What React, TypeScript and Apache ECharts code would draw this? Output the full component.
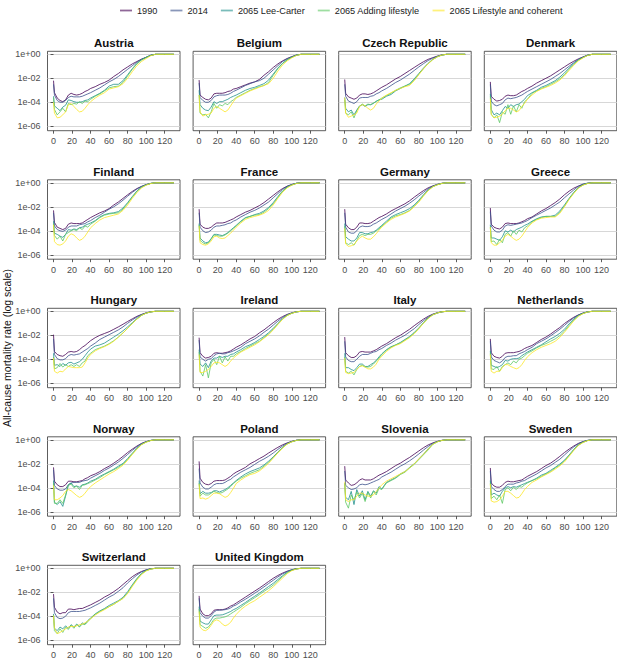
import React, { useEffect, useRef } from 'react';
import * as echarts from 'echarts';

// Ages (years) at which each curve is sampled
const AGES = [0, 1, 4, 7, 10, 13, 16, 19, 22, 25, 28, 31, 34, 37, 40, 45, 50, 55, 60, 65, 70, 75, 80, 85, 90, 95, 100, 105, 110, 120, 130];
// log10 mortality at ages 110, 120, 130 (all curves reach 1)
const TAIL = [0, 0, 0];

const SERIES_NAMES = ['1990', '2014', '2065 Lee-Carter', '2065 Adding lifestyle', '2065 Lifestyle and coherent'];
const COLORS = ['#440154', '#3B528B', '#21908C', '#5DC863', '#FDE725'];
const COUNTRIES = ['Austria', 'Belgium', 'Czech Republic', 'Denmark', 'Finland', 'France', 'Germany', 'Greece', 'Hungary', 'Ireland', 'Italy', 'Netherlands', 'Norway', 'Poland', 'Slovenia', 'Sweden', 'Switzerland', 'United Kingdom'];
const Y_TICKS = [1e-6, 1e-4, 1e-2, 1];
const X_TICKS = [0, 20, 40, 60, 80, 100, 120];

// log10 mortality rates, ages 0..105
const AT_1990 = [-2.2,-3.2,-3.65,-3.85,-3.95,-3.8,-3.4,-3.25,-3.35,-3.4,-3.35,-3.25,-3.1,-3.0,-2.85,-2.7,-2.5,-2.35,-2.15,-1.85,-1.6,-1.3,-1.05,-0.8,-0.6,-0.4,-0.25,-0.08];
const AT_2014 = [-2.5,-3.4,-3.85,-4.0,-4.0,-3.85,-3.6,-3.5,-3.55,-3.55,-3.55,-3.5,-3.4,-3.3,-3.2,-3.0,-2.8,-2.55,-2.3,-2.1,-1.85,-1.55,-1.25,-0.95,-0.65,-0.42,-0.25,-0.08];
const AT_LC = [-3.5,-4.3,-4.5,-4.7,-4.4,-4.25,-3.8,-3.85,-3.95,-4.0,-4.0,-3.95,-3.85,-3.8,-3.65,-3.45,-3.25,-3.0,-2.65,-2.5,-2.5,-2.2,-1.7,-1.2,-0.75,-0.45,-0.25,-0.08];
const AT_AL = [-3.6,-4.6,-5.05,-4.8,-4.5,-4.8,-4.1,-4.2,-4.1,-4.15,-3.95,-4.1,-3.9,-3.95,-3.75,-3.5,-3.3,-3.05,-2.8,-2.7,-2.65,-2.35,-1.8,-1.25,-0.8,-0.48,-0.27,-0.09];
const AT_CO = [-4.0,-4.9,-5.3,-5.25,-5.05,-4.8,-4.2,-4.1,-4.35,-4.6,-4.8,-4.75,-4.5,-4.2,-3.95,-3.65,-3.4,-3.2,-2.9,-2.8,-2.7,-2.45,-2.0,-1.45,-0.95,-0.6,-0.35,-0.12];

const BE_1990 = [-2.15,-3.4,-3.6,-3.75,-3.8,-3.65,-3.3,-3.25,-3.25,-3.25,-3.2,-3.1,-3.05,-2.9,-2.85,-2.7,-2.55,-2.4,-2.3,-2.1,-1.75,-1.45,-1.1,-0.8,-0.55,-0.35,-0.2,-0.06];
const BE_2014 = [-2.4,-3.6,-3.85,-4.0,-4.0,-3.85,-3.55,-3.45,-3.4,-3.4,-3.4,-3.35,-3.25,-3.1,-3.0,-2.8,-2.6,-2.45,-2.3,-2.2,-2.0,-1.65,-1.3,-0.95,-0.6,-0.38,-0.2,-0.06];
const BE_LC = [-3.0,-4.2,-4.5,-4.65,-4.7,-4.4,-3.95,-4.1,-3.95,-3.95,-3.85,-3.75,-3.6,-3.5,-3.4,-3.2,-3.0,-2.85,-2.75,-2.6,-2.45,-2.15,-1.65,-1.15,-0.75,-0.45,-0.25,-0.08];
const BE_AL = [-3.4,-4.9,-5.05,-5.0,-5.3,-4.8,-4.1,-4.5,-4.2,-4.3,-4.1,-4.2,-3.95,-3.8,-3.6,-3.4,-3.2,-3.0,-2.85,-2.7,-2.6,-2.35,-1.75,-1.2,-0.78,-0.47,-0.26,-0.08];
const BE_CO = [-3.4,-4.8,-5.15,-5.05,-5.0,-4.9,-4.5,-4.35,-4.5,-4.65,-4.8,-4.65,-4.3,-3.95,-3.65,-3.45,-3.25,-3.05,-2.9,-2.75,-2.6,-2.45,-2.0,-1.4,-0.9,-0.55,-0.3,-0.1];

const CZ_1990 = [-2.1,-3.25,-3.55,-3.65,-3.75,-3.65,-3.4,-3.3,-3.3,-3.35,-3.3,-3.2,-3.05,-2.9,-2.75,-2.55,-2.3,-2.05,-1.85,-1.6,-1.35,-1.1,-0.85,-0.62,-0.42,-0.28,-0.15,-0.05];
const CZ_2014 = [-2.5,-3.5,-3.9,-4.0,-4.1,-3.95,-3.65,-3.6,-3.6,-3.6,-3.5,-3.45,-3.3,-3.2,-3.05,-2.85,-2.6,-2.35,-2.15,-1.9,-1.65,-1.35,-1.05,-0.78,-0.52,-0.32,-0.17,-0.05];
const CZ_LC = [-3.6,-4.5,-4.8,-4.65,-5.05,-4.65,-4.3,-4.2,-4.35,-4.2,-4.2,-4.1,-3.9,-3.8,-3.75,-3.5,-3.35,-3.05,-2.85,-2.65,-2.45,-2.05,-1.6,-1.15,-0.75,-0.42,-0.2,-0.06];
const CZ_AL = [-3.8,-4.9,-5.05,-4.8,-5.3,-4.7,-4.35,-4.15,-4.3,-4.15,-4.2,-4.05,-3.95,-3.8,-3.65,-3.45,-3.25,-3.0,-2.8,-2.65,-2.5,-2.15,-1.65,-1.2,-0.78,-0.44,-0.2,-0.06];
const CZ_CO = [-3.6,-4.9,-5.25,-5.15,-5.05,-4.9,-4.35,-4.2,-4.3,-4.5,-4.65,-4.5,-4.15,-3.9,-3.65,-3.4,-3.2,-3.0,-2.85,-2.7,-2.6,-2.2,-1.7,-1.2,-0.8,-0.45,-0.21,-0.06];

const DK_1990 = [-2.3,-3.5,-3.75,-3.9,-3.85,-3.75,-3.5,-3.4,-3.45,-3.45,-3.4,-3.25,-3.1,-3.0,-2.85,-2.65,-2.4,-2.2,-2.0,-1.8,-1.55,-1.3,-1.05,-0.8,-0.58,-0.38,-0.22,-0.07];
const DK_2014 = [-2.5,-3.9,-4.2,-4.3,-4.2,-4.1,-3.8,-3.65,-3.7,-3.65,-3.6,-3.5,-3.4,-3.25,-3.1,-2.9,-2.7,-2.5,-2.3,-2.1,-1.85,-1.6,-1.3,-1.0,-0.7,-0.43,-0.24,-0.08];
const DK_LC = [-3.3,-4.6,-5.05,-4.9,-5.05,-4.7,-4.35,-4.5,-4.2,-4.35,-4.2,-4.15,-3.95,-3.75,-3.45,-3.2,-3.0,-2.75,-2.6,-2.4,-2.2,-1.9,-1.55,-1.15,-0.78,-0.47,-0.26,-0.08];
const DK_AL = [-3.5,-5.0,-5.3,-5.05,-5.7,-4.8,-5.0,-4.2,-5.0,-4.3,-4.8,-4.2,-4.5,-3.95,-3.75,-3.25,-3.05,-2.85,-2.7,-2.5,-2.3,-2.05,-1.7,-1.25,-0.85,-0.5,-0.28,-0.09];
const DK_CO = [-3.7,-5.0,-5.3,-5.25,-5.15,-5.0,-4.7,-4.5,-4.5,-4.65,-4.8,-4.7,-4.35,-4.1,-3.75,-3.4,-3.1,-2.9,-2.75,-2.6,-2.4,-2.15,-1.8,-1.35,-0.92,-0.55,-0.3,-0.1];

const FI_1990 = [-2.3,-3.3,-3.7,-3.8,-3.9,-3.8,-3.45,-3.35,-3.4,-3.4,-3.4,-3.35,-3.2,-3.05,-2.9,-2.7,-2.5,-2.35,-2.15,-1.85,-1.6,-1.3,-1.0,-0.72,-0.48,-0.3,-0.15,-0.05];
const FI_2014 = [-2.5,-3.6,-3.9,-4.0,-4.05,-3.95,-3.7,-3.6,-3.6,-3.6,-3.5,-3.45,-3.4,-3.25,-3.15,-2.9,-2.7,-2.45,-2.2,-2.0,-1.75,-1.45,-1.12,-0.8,-0.52,-0.3,-0.15,-0.05];
const FI_LC = [-3.2,-4.2,-4.3,-4.45,-4.55,-4.3,-3.9,-3.95,-3.85,-3.9,-3.75,-3.7,-3.55,-3.45,-3.35,-3.15,-2.85,-2.65,-2.55,-2.5,-2.4,-2.1,-1.65,-1.15,-0.68,-0.35,-0.17,-0.05];
const FI_AL = [-3.4,-4.4,-4.7,-4.45,-4.85,-4.3,-4.15,-4.0,-3.9,-4.0,-3.75,-3.9,-3.6,-3.7,-3.45,-3.2,-2.9,-2.7,-2.6,-2.55,-2.5,-2.2,-1.72,-1.2,-0.72,-0.38,-0.18,-0.05];
const FI_CO = [-3.5,-4.9,-5.15,-5.2,-5.1,-4.85,-4.45,-4.25,-4.35,-4.6,-4.8,-4.7,-4.45,-4.1,-3.75,-3.4,-3.1,-2.9,-2.8,-2.7,-2.6,-2.3,-1.85,-1.3,-0.82,-0.42,-0.2,-0.06];

const FR_1990 = [-2.2,-3.45,-3.7,-3.8,-3.8,-3.7,-3.5,-3.35,-3.35,-3.35,-3.3,-3.2,-3.1,-3.0,-2.85,-2.65,-2.45,-2.3,-2.1,-1.9,-1.65,-1.35,-1.05,-0.75,-0.48,-0.28,-0.14,-0.04];
const FR_2014 = [-2.5,-3.7,-4.0,-4.15,-4.1,-3.95,-3.7,-3.6,-3.6,-3.55,-3.5,-3.4,-3.35,-3.2,-3.1,-2.85,-2.65,-2.45,-2.3,-2.1,-1.85,-1.6,-1.25,-0.9,-0.55,-0.3,-0.15,-0.04];
const FR_LC = [-3.4,-4.6,-4.85,-5.0,-4.95,-4.65,-4.3,-4.3,-4.35,-4.4,-4.3,-4.15,-3.95,-3.75,-3.55,-3.2,-2.9,-2.8,-2.65,-2.55,-2.35,-2.05,-1.65,-1.15,-0.68,-0.35,-0.17,-0.05];
const FR_AL = [-3.5,-4.8,-5.0,-5.1,-5.0,-4.7,-4.35,-4.4,-4.45,-4.45,-4.35,-4.2,-4.0,-3.8,-3.6,-3.25,-2.95,-2.8,-2.7,-2.65,-2.45,-2.15,-1.75,-1.22,-0.72,-0.38,-0.18,-0.05];
const FR_CO = [-3.6,-5.0,-5.15,-5.2,-5.1,-4.85,-4.5,-4.45,-4.6,-4.65,-4.6,-4.4,-4.2,-3.95,-3.7,-3.35,-3.05,-2.9,-2.8,-2.7,-2.55,-2.3,-1.85,-1.3,-0.8,-0.42,-0.2,-0.06];

const DE_1990 = [-2.2,-3.45,-3.75,-3.9,-3.9,-3.7,-3.35,-3.35,-3.4,-3.4,-3.35,-3.2,-3.05,-2.9,-2.8,-2.6,-2.35,-2.15,-1.95,-1.75,-1.5,-1.2,-0.92,-0.65,-0.42,-0.26,-0.13,-0.04];
const DE_2014 = [-2.5,-3.7,-4.1,-4.2,-4.2,-4.0,-3.7,-3.6,-3.65,-3.65,-3.6,-3.45,-3.35,-3.2,-3.05,-2.85,-2.6,-2.35,-2.15,-1.95,-1.7,-1.42,-1.1,-0.8,-0.5,-0.28,-0.14,-0.04];
const DE_LC = [-3.4,-4.5,-4.7,-4.85,-4.85,-4.6,-4.15,-4.15,-4.25,-4.25,-4.15,-4.1,-3.95,-3.75,-3.55,-3.2,-2.85,-2.65,-2.5,-2.35,-2.15,-1.85,-1.45,-1.0,-0.6,-0.32,-0.16,-0.05];
const DE_AL = [-3.6,-5.0,-5.15,-5.0,-5.2,-4.8,-4.4,-4.3,-4.4,-4.3,-4.3,-4.2,-4.0,-3.85,-3.6,-3.3,-2.95,-2.75,-2.65,-2.5,-2.3,-1.95,-1.55,-1.05,-0.63,-0.33,-0.16,-0.05];
const DE_CO = [-3.8,-5.1,-5.3,-5.25,-5.15,-4.85,-4.6,-4.45,-4.6,-4.7,-4.7,-4.5,-4.25,-3.95,-3.7,-3.35,-3.05,-2.85,-2.7,-2.55,-2.35,-2.0,-1.6,-1.12,-0.66,-0.34,-0.17,-0.05];

const GR_1990 = [-2.1,-3.45,-3.7,-3.8,-3.85,-3.7,-3.4,-3.35,-3.4,-3.4,-3.4,-3.35,-3.25,-3.15,-3.0,-2.85,-2.6,-2.35,-2.15,-1.9,-1.65,-1.35,-1.0,-0.7,-0.45,-0.27,-0.14,-0.04];
const GR_2014 = [-2.4,-3.6,-3.95,-4.1,-4.1,-3.95,-3.6,-3.5,-3.55,-3.5,-3.45,-3.4,-3.35,-3.25,-3.15,-2.9,-2.7,-2.5,-2.3,-2.1,-1.85,-1.6,-1.25,-0.92,-0.6,-0.3,-0.1,-0.03];
const GR_LC = [-3.5,-4.6,-4.6,-4.7,-4.8,-4.5,-4.0,-4.1,-3.95,-4.1,-3.9,-3.8,-3.7,-3.55,-3.45,-3.2,-3.0,-2.85,-2.8,-2.8,-2.7,-2.35,-1.85,-1.3,-0.8,-0.4,-0.17,-0.05];
const GR_AL = [-3.7,-4.9,-4.85,-5.15,-4.7,-5.0,-4.3,-4.15,-4.45,-4.0,-4.3,-3.95,-4.1,-3.75,-3.6,-3.25,-3.05,-2.9,-2.8,-2.8,-2.8,-2.45,-1.95,-1.35,-0.85,-0.42,-0.18,-0.05];
const GR_CO = [-3.7,-5.0,-5.2,-5.2,-5.0,-4.8,-4.45,-4.3,-4.45,-4.65,-4.8,-4.7,-4.45,-4.1,-3.75,-3.35,-3.1,-2.95,-2.9,-2.85,-2.85,-2.55,-2.0,-1.4,-0.9,-0.45,-0.2,-0.06];

const HU_1990 = [-1.95,-3.35,-3.6,-3.7,-3.75,-3.6,-3.4,-3.35,-3.4,-3.35,-3.2,-3.0,-2.85,-2.65,-2.45,-2.2,-2.0,-1.85,-1.7,-1.5,-1.3,-1.08,-0.85,-0.63,-0.42,-0.26,-0.13,-0.04];
const HU_2014 = [-2.3,-3.6,-3.95,-4.05,-4.05,-3.95,-3.7,-3.6,-3.65,-3.6,-3.55,-3.4,-3.25,-3.1,-2.9,-2.65,-2.35,-2.15,-1.95,-1.75,-1.55,-1.3,-1.0,-0.72,-0.48,-0.28,-0.14,-0.04];
const HU_LC = [-3.5,-4.5,-4.45,-4.6,-4.35,-4.5,-4.3,-4.25,-4.4,-4.3,-4.2,-4.0,-3.7,-3.4,-3.15,-2.9,-2.8,-2.65,-2.4,-2.15,-1.9,-1.62,-1.3,-0.95,-0.6,-0.32,-0.15,-0.05];
const HU_AL = [-3.8,-4.8,-4.7,-4.35,-4.65,-4.45,-4.6,-4.45,-4.6,-4.45,-4.6,-4.3,-4.15,-3.7,-3.5,-3.2,-3.05,-2.9,-2.7,-2.45,-2.15,-1.8,-1.42,-1.02,-0.65,-0.34,-0.16,-0.05];
const HU_CO = [-3.9,-5.0,-5.15,-5.0,-5.05,-4.8,-4.6,-4.65,-4.7,-4.7,-4.7,-4.65,-4.3,-3.9,-3.6,-3.3,-3.1,-2.95,-2.75,-2.5,-2.15,-1.8,-1.42,-1.02,-0.65,-0.34,-0.16,-0.05];

const IE_1990 = [-2.2,-3.45,-3.75,-3.9,-3.85,-3.75,-3.5,-3.45,-3.5,-3.5,-3.45,-3.4,-3.3,-3.15,-3.0,-2.8,-2.55,-2.3,-2.1,-1.8,-1.55,-1.25,-0.95,-0.67,-0.44,-0.26,-0.13,-0.04];
const IE_2014 = [-2.4,-3.8,-4.0,-4.15,-4.0,-3.95,-3.7,-3.55,-3.5,-3.55,-3.55,-3.45,-3.4,-3.3,-3.2,-3.0,-2.7,-2.5,-2.3,-2.05,-1.75,-1.48,-1.15,-0.82,-0.52,-0.29,-0.14,-0.04];
const IE_LC = [-3.2,-4.4,-4.6,-4.3,-4.7,-4.15,-3.9,-3.9,-3.75,-3.85,-3.75,-3.75,-3.6,-3.55,-3.4,-3.2,-2.95,-2.8,-2.6,-2.35,-2.1,-1.78,-1.42,-1.02,-0.62,-0.33,-0.16,-0.05];
const IE_AL = [-3.4,-5.0,-5.4,-4.45,-5.55,-4.3,-4.0,-4.45,-3.75,-4.3,-3.8,-4.15,-3.75,-3.75,-3.55,-3.35,-3.1,-2.9,-2.7,-2.5,-2.2,-1.88,-1.5,-1.06,-0.65,-0.35,-0.17,-0.05];
const IE_CO = [-3.6,-5.1,-5.1,-5.0,-4.85,-4.6,-4.3,-4.25,-4.3,-4.45,-4.6,-4.45,-4.15,-3.9,-3.7,-3.4,-3.2,-3.0,-2.8,-2.55,-2.25,-1.95,-1.55,-1.1,-0.68,-0.36,-0.17,-0.05];

const IT_1990 = [-2.15,-3.45,-3.7,-3.85,-3.85,-3.7,-3.4,-3.35,-3.4,-3.4,-3.4,-3.3,-3.2,-3.05,-2.9,-2.7,-2.45,-2.2,-2.0,-1.75,-1.5,-1.2,-0.92,-0.65,-0.42,-0.24,-0.12,-0.04];
const IT_2014 = [-2.5,-3.8,-4.1,-4.2,-4.2,-4.0,-3.75,-3.6,-3.6,-3.6,-3.5,-3.4,-3.35,-3.2,-3.1,-2.85,-2.65,-2.4,-2.2,-2.0,-1.72,-1.45,-1.1,-0.78,-0.5,-0.27,-0.13,-0.04];
const IT_LC = [-3.5,-4.7,-4.7,-4.85,-4.95,-4.7,-4.4,-4.4,-4.6,-4.6,-4.45,-4.3,-4.1,-3.8,-3.55,-3.2,-2.95,-2.8,-2.6,-2.35,-2.1,-1.77,-1.38,-0.95,-0.55,-0.28,-0.14,-0.04];
const IT_AL = [-3.8,-5.0,-5.15,-5.0,-5.3,-4.85,-4.6,-4.5,-4.65,-4.65,-4.6,-4.4,-4.15,-3.9,-3.6,-3.25,-3.0,-2.8,-2.65,-2.4,-2.15,-1.82,-1.42,-0.98,-0.57,-0.3,-0.14,-0.04];
const IT_CO = [-3.9,-5.1,-5.2,-5.15,-5.1,-4.85,-4.6,-4.55,-4.65,-4.8,-4.8,-4.65,-4.4,-4.0,-3.75,-3.35,-3.05,-2.85,-2.7,-2.45,-2.2,-1.87,-1.46,-1.0,-0.6,-0.3,-0.14,-0.04];

const NL_1990 = [-2.3,-3.45,-3.75,-3.85,-3.9,-3.75,-3.5,-3.45,-3.45,-3.45,-3.4,-3.35,-3.25,-3.1,-3.0,-2.85,-2.6,-2.35,-2.15,-1.9,-1.62,-1.35,-1.02,-0.75,-0.5,-0.3,-0.15,-0.05];
const NL_2014 = [-2.5,-3.8,-4.1,-4.2,-4.3,-4.15,-3.85,-3.75,-3.75,-3.7,-3.7,-3.55,-3.45,-3.35,-3.2,-3.0,-2.7,-2.5,-2.3,-2.05,-1.78,-1.5,-1.18,-0.85,-0.55,-0.31,-0.15,-0.05];
const NL_LC = [-3.3,-4.5,-4.6,-4.7,-4.6,-4.45,-4.1,-4.15,-4.0,-3.95,-3.95,-3.9,-3.7,-3.55,-3.4,-3.2,-3.0,-2.8,-2.55,-2.3,-2.1,-1.83,-1.5,-1.05,-0.65,-0.35,-0.17,-0.05];
const NL_AL = [-3.5,-4.8,-4.85,-4.6,-5.0,-4.6,-4.45,-4.3,-4.45,-4.15,-4.3,-4.0,-3.9,-3.7,-3.5,-3.3,-3.05,-2.85,-2.7,-2.5,-2.3,-2.03,-1.65,-1.18,-0.75,-0.4,-0.19,-0.06];
const NL_CO = [-3.6,-5.0,-5.15,-5.0,-5.0,-4.7,-4.45,-4.45,-4.6,-4.7,-4.8,-4.7,-4.45,-4.1,-3.8,-3.45,-3.2,-3.0,-2.85,-2.7,-2.5,-2.18,-1.75,-1.28,-0.8,-0.42,-0.2,-0.06];

const NO_1990 = [-2.3,-3.45,-3.75,-3.9,-3.9,-3.75,-3.45,-3.45,-3.5,-3.5,-3.45,-3.4,-3.25,-3.15,-3.0,-2.85,-2.65,-2.4,-2.2,-1.95,-1.68,-1.38,-1.06,-0.78,-0.52,-0.3,-0.15,-0.05];
const NO_2014 = [-2.5,-3.8,-4.1,-4.2,-4.2,-4.1,-3.75,-3.6,-3.55,-3.55,-3.55,-3.45,-3.4,-3.35,-3.2,-3.0,-2.8,-2.55,-2.35,-2.1,-1.85,-1.55,-1.22,-0.88,-0.58,-0.32,-0.16,-0.05];
const NO_LC = [-3.4,-5.2,-5.4,-5.15,-5.55,-4.7,-3.75,-3.6,-3.9,-3.85,-3.95,-3.75,-3.7,-3.6,-3.45,-3.3,-3.05,-2.85,-2.65,-2.45,-2.2,-1.97,-1.56,-1.12,-0.7,-0.37,-0.18,-0.05];
const NO_AL = [-3.6,-5.3,-5.3,-5.0,-5.3,-4.6,-3.8,-3.7,-4.0,-3.85,-4.15,-3.8,-3.75,-3.65,-3.55,-3.35,-3.15,-2.9,-2.7,-2.5,-2.3,-2.02,-1.65,-1.18,-0.74,-0.39,-0.19,-0.06];
const NO_CO = [-3.8,-5.0,-5.0,-4.85,-4.65,-4.3,-4.15,-4.25,-4.45,-4.65,-4.8,-4.7,-4.45,-4.15,-3.9,-3.6,-3.35,-3.1,-2.85,-2.65,-2.4,-2.12,-1.7,-1.22,-0.78,-0.41,-0.2,-0.06];

const PL_1990 = [-1.8,-3.2,-3.55,-3.7,-3.75,-3.65,-3.45,-3.4,-3.4,-3.4,-3.35,-3.2,-3.05,-2.85,-2.7,-2.5,-2.3,-2.0,-1.8,-1.57,-1.36,-1.1,-0.86,-0.63,-0.42,-0.26,-0.13,-0.04];
const PL_2014 = [-2.4,-3.6,-3.95,-4.1,-4.1,-3.95,-3.75,-3.65,-3.65,-3.65,-3.55,-3.4,-3.3,-3.1,-2.95,-2.7,-2.5,-2.3,-2.05,-1.8,-1.6,-1.37,-1.1,-0.8,-0.52,-0.29,-0.14,-0.04];
const PL_LC = [-3.4,-4.5,-4.3,-4.45,-4.45,-4.4,-4.25,-4.25,-4.35,-4.25,-4.15,-4.0,-3.8,-3.6,-3.4,-3.1,-2.85,-2.65,-2.5,-2.35,-2.1,-1.78,-1.42,-1.02,-0.64,-0.34,-0.16,-0.05];
const PL_AL = [-3.6,-4.7,-4.45,-4.6,-4.6,-4.45,-4.3,-4.4,-4.45,-4.4,-4.25,-4.1,-3.9,-3.65,-3.45,-3.2,-3.0,-2.8,-2.65,-2.5,-2.2,-1.87,-1.48,-1.06,-0.67,-0.35,-0.17,-0.05];
const PL_CO = [-3.7,-4.9,-4.85,-4.95,-4.85,-4.65,-4.45,-4.45,-4.5,-4.65,-4.8,-4.7,-4.4,-4.05,-3.65,-3.35,-3.1,-2.9,-2.8,-2.6,-2.3,-1.96,-1.53,-1.1,-0.7,-0.36,-0.17,-0.05];

const SI_1990 = [-2.2,-3.35,-3.6,-3.8,-3.75,-3.6,-3.35,-3.25,-3.35,-3.35,-3.35,-3.25,-3.1,-2.95,-2.85,-2.65,-2.4,-2.15,-1.95,-1.7,-1.47,-1.2,-0.93,-0.66,-0.43,-0.26,-0.13,-0.04];
const SI_2014 = [-2.6,-3.8,-4.0,-4.15,-4.1,-4.0,-3.75,-3.7,-3.75,-3.7,-3.6,-3.5,-3.4,-3.3,-3.1,-2.9,-2.7,-2.45,-2.2,-2.0,-1.75,-1.48,-1.18,-0.86,-0.56,-0.3,-0.15,-0.05];
const SI_LC = [-3.6,-4.8,-5.0,-4.3,-5.4,-4.15,-4.7,-4.25,-5.0,-4.3,-4.7,-4.25,-4.45,-3.9,-4.1,-3.55,-3.35,-3.15,-2.85,-2.65,-2.3,-2.0,-1.6,-1.2,-0.75,-0.35,-0.16,-0.05];
const SI_AL = [-3.7,-5.2,-5.7,-4.6,-5.0,-4.35,-4.85,-4.45,-5.15,-4.4,-4.85,-4.3,-4.6,-4.05,-4.15,-3.6,-3.4,-3.2,-2.9,-2.7,-2.35,-2.05,-1.65,-1.25,-0.85,-0.38,-0.17,-0.05];
const SI_CO = [-3.5,-5.0,-5.15,-5.0,-5.0,-4.7,-4.45,-4.45,-4.6,-4.7,-4.7,-4.6,-4.3,-4.05,-3.75,-3.45,-3.25,-3.05,-2.85,-2.65,-2.35,-2.0,-1.6,-1.2,-0.78,-0.38,-0.17,-0.05];

const SE_1990 = [-2.35,-3.6,-3.85,-3.95,-3.95,-3.8,-3.55,-3.45,-3.5,-3.5,-3.45,-3.4,-3.35,-3.2,-3.05,-2.85,-2.65,-2.4,-2.15,-1.95,-1.68,-1.38,-1.06,-0.78,-0.52,-0.3,-0.15,-0.05];
const SE_2014 = [-2.6,-3.9,-4.15,-4.3,-4.3,-4.15,-3.9,-3.7,-3.7,-3.7,-3.6,-3.55,-3.45,-3.4,-3.25,-3.05,-2.85,-2.6,-2.35,-2.15,-1.88,-1.62,-1.27,-0.92,-0.6,-0.33,-0.16,-0.05];
const SE_LC = [-3.4,-4.6,-4.45,-4.6,-4.7,-4.3,-4.0,-3.9,-4.0,-3.9,-3.95,-3.85,-3.75,-3.65,-3.55,-3.4,-3.2,-2.95,-2.8,-2.55,-2.3,-2.02,-1.7,-1.27,-0.8,-0.42,-0.2,-0.06];
const SE_AL = [-3.6,-4.9,-4.7,-5.0,-4.6,-5.3,-4.15,-4.0,-4.25,-3.95,-4.15,-3.9,-3.95,-3.75,-3.6,-3.4,-3.25,-3.05,-2.85,-2.65,-2.35,-2.12,-1.75,-1.32,-0.85,-0.45,-0.21,-0.06];
const SE_CO = [-3.7,-5.1,-5.2,-5.15,-5.0,-4.7,-4.3,-4.3,-4.45,-4.65,-4.85,-4.8,-4.5,-4.15,-3.9,-3.55,-3.35,-3.1,-2.9,-2.7,-2.45,-2.17,-1.85,-1.38,-0.9,-0.48,-0.23,-0.07];

const CH_1990 = [-2.15,-3.25,-3.65,-3.8,-3.7,-3.7,-3.4,-3.4,-3.45,-3.4,-3.35,-3.35,-3.25,-3.15,-3.05,-2.85,-2.65,-2.4,-2.2,-1.95,-1.68,-1.35,-1.02,-0.7,-0.45,-0.26,-0.13,-0.04];
const CH_2014 = [-2.5,-3.7,-4.1,-4.2,-4.15,-4.0,-3.7,-3.6,-3.6,-3.6,-3.6,-3.55,-3.5,-3.4,-3.3,-3.1,-2.9,-2.65,-2.4,-2.2,-1.92,-1.62,-1.22,-0.88,-0.56,-0.3,-0.14,-0.04];
const CH_LC = [-3.8,-5.0,-5.2,-4.9,-5.05,-4.8,-5.0,-4.7,-4.9,-4.65,-4.85,-4.55,-4.65,-4.35,-4.15,-3.8,-3.55,-3.35,-3.1,-2.9,-2.7,-2.42,-1.95,-1.38,-0.85,-0.42,-0.18,-0.05];
const CH_AL = [-3.9,-5.2,-5.45,-5.05,-5.35,-4.9,-5.1,-4.75,-5.0,-4.7,-4.9,-4.65,-4.7,-4.45,-4.2,-3.85,-3.6,-3.4,-3.2,-3.0,-2.75,-2.5,-2.05,-1.45,-0.9,-0.47,-0.2,-0.06];
const CH_CO = [-3.95,-5.0,-5.45,-5.35,-5.2,-5.05,-4.9,-4.85,-4.85,-4.8,-4.7,-4.65,-4.55,-4.4,-4.2,-3.9,-3.65,-3.45,-3.2,-3.0,-2.75,-2.52,-2.1,-1.52,-0.98,-0.52,-0.22,-0.07];

const UK_1990 = [-2.3,-3.4,-3.8,-3.95,-3.95,-3.8,-3.5,-3.45,-3.45,-3.45,-3.4,-3.3,-3.15,-3.05,-2.9,-2.65,-2.4,-2.15,-1.9,-1.65,-1.38,-1.1,-0.83,-0.6,-0.4,-0.24,-0.12,-0.04];
const UK_2014 = [-2.5,-3.7,-4.0,-4.15,-4.15,-3.95,-3.65,-3.5,-3.5,-3.48,-3.45,-3.4,-3.3,-3.15,-3.05,-2.8,-2.58,-2.33,-2.08,-1.82,-1.55,-1.27,-1.0,-0.72,-0.47,-0.27,-0.13,-0.04];
const UK_LC = [-3.2,-4.4,-4.55,-4.65,-4.65,-4.3,-3.95,-3.9,-3.9,-3.88,-3.8,-3.7,-3.6,-3.45,-3.35,-3.1,-2.85,-2.58,-2.33,-2.07,-1.8,-1.52,-1.25,-0.93,-0.62,-0.33,-0.15,-0.05];
const UK_AL = [-3.4,-4.7,-4.85,-5.0,-4.9,-4.6,-4.25,-4.15,-4.15,-4.1,-4.05,-3.95,-3.8,-3.65,-3.5,-3.25,-2.95,-2.7,-2.45,-2.2,-1.92,-1.68,-1.4,-1.05,-0.7,-0.38,-0.17,-0.05];
const UK_CO = [-3.6,-4.9,-5.15,-5.2,-5.05,-4.75,-4.4,-4.3,-4.4,-4.65,-4.8,-4.7,-4.5,-4.15,-3.85,-3.45,-3.15,-2.9,-2.7,-2.42,-2.15,-1.87,-1.55,-1.18,-0.82,-0.45,-0.2,-0.06];

const PANEL_DATA = [
  [AT_1990, AT_2014, AT_LC, AT_AL, AT_CO],
  [BE_1990, BE_2014, BE_LC, BE_AL, BE_CO],
  [CZ_1990, CZ_2014, CZ_LC, CZ_AL, CZ_CO],
  [DK_1990, DK_2014, DK_LC, DK_AL, DK_CO],
  [FI_1990, FI_2014, FI_LC, FI_AL, FI_CO],
  [FR_1990, FR_2014, FR_LC, FR_AL, FR_CO],
  [DE_1990, DE_2014, DE_LC, DE_AL, DE_CO],
  [GR_1990, GR_2014, GR_LC, GR_AL, GR_CO],
  [HU_1990, HU_2014, HU_LC, HU_AL, HU_CO],
  [IE_1990, IE_2014, IE_LC, IE_AL, IE_CO],
  [IT_1990, IT_2014, IT_LC, IT_AL, IT_CO],
  [NL_1990, NL_2014, NL_LC, NL_AL, NL_CO],
  [NO_1990, NO_2014, NO_LC, NO_AL, NO_CO],
  [PL_1990, PL_2014, PL_LC, PL_AL, PL_CO],
  [SI_1990, SI_2014, SI_LC, SI_AL, SI_CO],
  [SE_1990, SE_2014, SE_LC, SE_AL, SE_CO],
  [CH_1990, CH_2014, CH_LC, CH_AL, CH_CO],
  [UK_1990, UK_2014, UK_LC, UK_AL, UK_CO],
];

const FONT = '"Liberation Sans", Arial, Helvetica, sans-serif';

function fmtExp(v: number): string {
  const e = Math.round(Math.log10(v));
  return '1e' + (e >= 0 ? '+' : '-') + String(Math.abs(e)).padStart(2, '0');
}

function buildOption() {
  const grid: any[] = [];
  const xAxis: any[] = [];
  const yAxis: any[] = [];
  const series: any[] = [];
  const graphic: any[] = [];
  const PW = 132.5;
  const PH = 79.4;
  COUNTRIES.forEach((name, i) => {
    const r = Math.floor(i / 4);
    const c = i % 4;
    const left = 47.5 + c * 145.6;
    const top = 51.3 + r * 128.5;
    const firstCol = c === 0;
    grid.push({ left, top, width: PW, height: PH, show: true, borderColor: '#333333', borderWidth: 0.8, backgroundColor: 'transparent', containLabel: false });
    xAxis.push({
      gridIndex: i, type: 'value', min: -6.5, max: 136.5,
      axisLine: { show: false },
      splitLine: { show: false },
      axisTick: { show: true, length: 3, customValues: X_TICKS, lineStyle: { color: '#333333', width: 0.8 } },
      axisLabel: { show: true, customValues: X_TICKS, fontSize: 9, color: '#4D4D4D', margin: 6, fontFamily: FONT },
    });
    yAxis.push({
      gridIndex: i, type: 'log', logBase: 10, min: Math.pow(10, -6.37), max: Math.pow(10, 0.25),
      axisLine: { show: false },
      splitLine: { show: true, lineStyle: { color: '#D3D3D3', width: 0.9 } },
      minorTick: { show: false },
      axisTick: { show: firstCol, length: 3, customValues: Y_TICKS, lineStyle: { color: '#333333', width: 0.8 } },
      axisLabel: { show: firstCol, customValues: Y_TICKS, fontSize: 9, color: '#4D4D4D', margin: 7, fontFamily: FONT, formatter: (v: number) => fmtExp(v) },
    });
    graphic.push({
      type: 'text', x: left + PW / 2, y: top - 8,
      style: { text: name, textAlign: 'center', textVerticalAlign: 'middle', fontSize: 11.5, fontWeight: 'bold', fill: '#111111', fontFamily: FONT },
    });
    PANEL_DATA[i].forEach((vals, k) => {
      const full = vals.concat(TAIL);
      series.push({
        type: 'line', name: SERIES_NAMES[k], xAxisIndex: i, yAxisIndex: i,
        data: AGES.map((a, j) => [a, Math.pow(10, full[j])]),
        symbol: 'none', showSymbol: false, silent: true, smooth: false,
        lineStyle: { width: 0.8, color: COLORS[k] },
        itemStyle: { color: COLORS[k] },
        z: 2 + k,
      });
    });
  });
  graphic.push({
    type: 'text', x: 7, y: 348, rotation: Math.PI / 2,
    style: { text: 'All-cause mortality rate (log scale)', textAlign: 'center', textVerticalAlign: 'middle', fontSize: 10.5, fill: '#111111', fontFamily: FONT },
  });
  return {
    animation: false,
    backgroundColor: '#ffffff',
    legend: {
      data: SERIES_NAMES, top: 1, left: 115, icon: 'rect', itemWidth: 12, itemHeight: 1.8, itemGap: 13,
      itemStyle: { opacity: 0.6 },
      textStyle: { fontSize: 9.2, color: '#222222', fontFamily: FONT },
      selectedMode: false,
    },
    grid, xAxis, yAxis, series, graphic,
  };
}

export default function App() {
  const ref = useRef<HTMLDivElement>(null);
  useEffect(() => {
    if (!ref.current) return;
    const chart = echarts.init(ref.current, undefined, { renderer: 'svg' });
    chart.setOption(buildOption() as any);
    return () => chart.dispose();
  }, []);
  return <div ref={ref} style={{ position: 'absolute', left: 0, top: 0, width: 617, height: 661 }} />;
}
